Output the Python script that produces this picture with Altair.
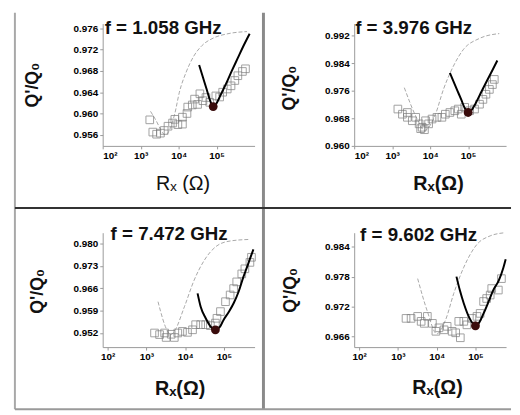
import altair as alt
import pandas as pd

# ---------------- data (x values are log10 of Rx in ohms) ----------------
X_TICKS = [2, 3, 4, 5]
X_TICK_LABELS = ["10²", "10³", "10⁴", "10⁵"]

# Panel 1 : f = 1.058 GHz
P1_TITLE = "f = 1.058 GHz"
P1_Y_TICKS = [0.956, 0.960, 0.964, 0.968, 0.972, 0.976]
P1_SQ_X = [3.24, 3.32, 3.42, 3.52, 3.62, 3.72, 3.84, 3.90, 3.98, 4.10, 4.10, 4.22, 4.24, 4.36,
           4.42, 4.50, 4.56, 4.64, 4.72, 4.82, 4.98, 5.08, 5.16, 5.28, 5.38, 5.48, 5.56, 5.68, 5.76]
P1_SQ_Y = [0.9588, 0.9565, 0.9561, 0.9563, 0.9568, 0.9576, 0.9582, 0.9589, 0.9579, 0.9580, 0.9593,
           0.9600, 0.9612, 0.9616, 0.9627, 0.9617, 0.9637, 0.9624, 0.9630, 0.9621, 0.9633, 0.9631,
           0.9640, 0.9646, 0.9652, 0.9662, 0.9671, 0.9679, 0.9684]
P1_FIT_X = [4.54, 4.64, 4.74, 4.83, 4.91, 4.99, 5.10, 5.25, 5.40, 5.55, 5.70, 5.87]
P1_FIT_Y = [0.9691, 0.9668, 0.9645, 0.9624, 0.9613, 0.9618, 0.9634, 0.9656, 0.9680, 0.9703, 0.9726, 0.9750]
P1_TH_X = [3.26, 3.38, 3.65, 3.90, 4.02, 4.20, 4.40, 4.62, 4.92, 5.30, 5.80]
P1_TH_Y = [0.9604, 0.9590, 0.9560, 0.9600, 0.9640, 0.9678, 0.9708, 0.9728, 0.9742, 0.9750, 0.9754]
P1_MIN = [4.91, 0.9613]

# Panel 2 : f = 3.976 GHz
P2_TITLE = "f = 3.976 GHz"
P2_Y_TICKS = [0.960, 0.968, 0.976, 0.984, 0.992]
P2_SQ_X = [3.15, 3.27, 3.40, 3.40, 3.53, 3.62, 3.71, 3.75, 3.79, 3.85, 3.88, 3.96, 4.05, 4.18, 4.31,
           4.40, 4.52, 4.65, 4.74, 4.82, 4.91, 5.04, 5.17, 5.30, 5.39, 5.47, 5.56, 5.64, 5.69]
P2_SQ_Y = [0.9707, 0.9692, 0.9697, 0.9683, 0.9673, 0.9683, 0.9664, 0.9650, 0.9654, 0.9647, 0.9673,
           0.9664, 0.9678, 0.9683, 0.9683, 0.9692, 0.9697, 0.9702, 0.9707, 0.9692, 0.9712, 0.9702,
           0.9707, 0.9721, 0.9735, 0.9750, 0.9764, 0.9778, 0.9793]
P2_FIT_X = [4.52, 4.62, 4.72, 4.82, 4.91, 5.00, 5.09, 5.20, 5.35, 5.50, 5.65, 5.77]
P2_FIT_Y = [0.9812, 0.9786, 0.9760, 0.9734, 0.9710, 0.9697, 0.9704, 0.9724, 0.9757, 0.9790, 0.9822, 0.9848]
P2_TH_X = [3.32, 3.66, 3.85, 4.14, 4.35, 4.61, 4.87, 5.30, 5.82]
P2_TH_Y = [0.9769, 0.9678, 0.9645, 0.9692, 0.9764, 0.9831, 0.9879, 0.9912, 0.9926]
P2_MIN = [5.00, 0.9697]

# Panel 3 : f = 7.472 GHz
P3_TITLE = "f = 7.472 GHz"
P3_Y_TICKS = [0.952, 0.959, 0.966, 0.973, 0.980]
P3_SQ_X = [3.21, 3.34, 3.47, 3.51, 3.64, 3.72, 3.81, 3.93, 4.06, 4.19, 4.27, 4.40, 4.53, 4.65,
           4.78, 4.82, 4.91, 5.04, 5.16, 5.25, 5.33, 5.46, 5.54, 5.67, 5.71]
P3_SQ_Y = [0.9520, 0.9515, 0.9520, 0.9506, 0.9516, 0.9506, 0.9520, 0.9525, 0.9522, 0.9530, 0.9546,
           0.9546, 0.9546, 0.9543, 0.9551, 0.9566, 0.9587, 0.9618, 0.9639, 0.9659, 0.9680, 0.9705,
           0.9721, 0.9741, 0.9757]
P3_FIT_X = [4.32, 4.40, 4.53, 4.65, 4.78, 4.90, 4.99, 5.12, 5.25, 5.38, 5.50, 5.60, 5.67, 5.76]
P3_FIT_Y = [0.9644, 0.9602, 0.9566, 0.9541, 0.9530, 0.9540, 0.9561, 0.9585, 0.9613, 0.9650, 0.9695,
            0.9728, 0.9752, 0.9782]
P3_TH_X = [3.30, 3.55, 3.63, 3.72, 3.98, 4.23, 4.49, 4.82, 5.16, 5.67]
P3_TH_Y = [0.9618, 0.9525, 0.9515, 0.9525, 0.9602, 0.9685, 0.9747, 0.9793, 0.9808, 0.9813]
P3_MIN = [4.78, 0.9530]

# Panel 4 : f = 9.602 GHz
P4_TITLE = "f = 9.602 GHz"
P4_Y_TICKS = [0.966, 0.972, 0.978, 0.984]
P4_SQ_X = [3.21, 3.34, 3.51, 3.60, 3.68, 3.76, 3.89, 3.98, 4.06, 4.19, 4.27, 4.40, 4.49, 4.61,
           4.57, 4.70, 4.78, 4.91, 5.04, 5.12, 5.21, 5.29, 5.38, 5.42, 5.59, 5.67]
P4_SQ_Y = [0.9696, 0.9696, 0.9700, 0.9690, 0.9686, 0.9700, 0.9686, 0.9670, 0.9677, 0.9673, 0.9680,
           0.9670, 0.9667, 0.9657, 0.9690, 0.9690, 0.9683, 0.9696, 0.9700, 0.9706, 0.9730, 0.9736,
           0.9743, 0.9756, 0.9753, 0.9776]
P4_FIT_X = [4.51, 4.60, 4.70, 4.85, 5.00, 5.10, 5.21, 5.33, 5.46, 5.60, 5.72, 5.78]
P4_FIT_Y = [0.9780, 0.9752, 0.9726, 0.9696, 0.9681, 0.9688, 0.9706, 0.9728, 0.9753, 0.9772, 0.9798, 0.9815]
P4_TH_X = [3.51, 3.76, 4.00, 4.23, 4.44, 4.70, 5.04, 5.38, 5.72]
P4_TH_Y = [0.9776, 0.9710, 0.9665, 0.9693, 0.9746, 0.9799, 0.9845, 0.9862, 0.9868]
P4_MIN = [5.00, 0.9681]

# ---------------- layout / style ----------------
W = 154
H_TOP, H_BOT = 124, 116
FONT = "Liberation Sans"

PANELS = [
    dict(title=P1_TITLE, yt=P1_Y_TICKS, sx=P1_SQ_X, sy=P1_SQ_Y, fx=P1_FIT_X, fy=P1_FIT_Y,
         tx=P1_TH_X, ty=P1_TH_Y, m=P1_MIN, xd=[2, 6], yd=[0.9539, 0.9769], h=H_TOP,
         ttl=(2, 5), ytp=(-71, 62), xtp=(81, 38), xtitle="Rₓ (Ω)", xw="normal"),
    dict(title=P2_TITLE, yt=P2_Y_TICKS, sx=P2_SQ_X, sy=P2_SQ_Y, fx=P2_FIT_X, fy=P2_FIT_Y,
         tx=P2_TH_X, ty=P2_TH_Y, m=P2_MIN, xd=[2, 6], yd=[0.960, 0.9955], h=H_TOP,
         ttl=(1, 5), ytp=(-66, 65), xtp=(85, 38), xtitle="Rₓ(Ω)", xw="bold"),
    dict(title=P3_TITLE, yt=P3_Y_TICKS, sx=P3_SQ_X, sy=P3_SQ_Y, fx=P3_FIT_X, fy=P3_FIT_Y,
         tx=P3_TH_X, ty=P3_TH_Y, m=P3_MIN, xd=[1.873, 5.79], yd=[0.94758, 0.9834], h=H_BOT,
         ttl=(8, 1), ytp=(-66, 59), xtp=(78, 42), xtitle="Rₓ(Ω)", xw="bold"),
    dict(title=P4_TITLE, yt=P4_Y_TICKS, sx=P4_SQ_X, sy=P4_SQ_Y, fx=P4_FIT_X, fy=P4_FIT_Y,
         tx=P4_TH_X, ty=P4_TH_Y, m=P4_MIN, xd=[1.873, 5.79], yd=[0.96382, 0.98684], h=H_BOT,
         ttl=(6, 2), ytp=(-64, 58), xtp=(84, 41), xtitle="Rₓ(Ω)", xw="bold"),
]

# frame lines (pixels relative to first panel's plot area)
FRAME = pd.DataFrame({
    "x1": [-89, 163, -89, -89],
    "x2": [-89, 163, 414, 414],
    "y1": [-11, -11, 187, 391],
    "y2": [391, 391, 187, 391],
    "c": ["#a8a8a8", "#8a8a8a", "#333333", "#9a9a9a"],
    "w": [2, 3, 2, 2],
})

label_expr = "[" + ",".join("'%s'" % s for s in X_TICK_LABELS) + "][round(datum.value) - 2]"


def make_panel(p, with_frame=False):
    xenc = alt.X("x:Q", scale=alt.Scale(domain=p["xd"], nice=False, zero=False),
                 axis=alt.Axis(values=X_TICKS, labelExpr=label_expr, title=p["xtitle"],
                               titleX=p["xtp"][0], titleY=p["xtp"][1], titleAlign="center",
                               titleBaseline="middle", titleFont=FONT, titleFontSize=20,
                               titleFontWeight=p["xw"], titleColor="#111"))
    yenc = alt.Y("y:Q", scale=alt.Scale(domain=p["yd"], nice=False, zero=False),
                 axis=alt.Axis(values=p["yt"], format=".3f", title="Q'/Q₀",
                               titleX=p["ytp"][0], titleY=p["ytp"][1], titleAngle=270,
                               titleAlign="center", titleBaseline="middle", titleFont=FONT,
                               titleFontSize=18, titleFontWeight="bold", titleColor="#111"))

    th = alt.Chart(pd.DataFrame({"x": p["tx"], "y": p["ty"]})).mark_line(
        color="#a8a8a8", strokeWidth=1, strokeDash=[4, 2], interpolate="monotone"
    ).encode(x=xenc, y=yenc)
    sq = alt.Chart(pd.DataFrame({"x": p["sx"], "y": p["sy"]})).mark_point(
        shape="square", filled=False, size=60, strokeWidth=1, color="#7a7a7a"
    ).encode(x=xenc, y=yenc)
    fit = alt.Chart(pd.DataFrame({"x": p["fx"], "y": p["fy"]})).mark_line(
        color="#000000", strokeWidth=2, interpolate="monotone"
    ).encode(x=xenc, y=yenc)
    dot = alt.Chart(pd.DataFrame({"x": [p["m"][0]], "y": [p["m"][1]]})).mark_point(
        shape="circle", filled=True, size=80, color="#3a0c0c", opacity=1
    ).encode(x=xenc, y=yenc)
    ttl = alt.Chart(pd.DataFrame({"t": [p["title"]]})).mark_text(
        align="left", baseline="middle", font=FONT, fontSize=19, fontWeight="bold", color="#111"
    ).encode(x=alt.value(p["ttl"][0]), y=alt.value(p["ttl"][1]), text="t:N")

    layers = [th, sq, fit, dot, ttl]
    if with_frame:
        fr = alt.Chart(FRAME).mark_rule().encode(
            x=alt.X("x1:Q", scale=None), x2="x2:Q",
            y=alt.Y("y1:Q", scale=None), y2="y2:Q",
            color=alt.Color("c:N", scale=None),
            strokeWidth=alt.StrokeWidth("w:Q", scale=None),
        )
        layers = [fr] + layers
    return alt.layer(*layers).properties(width=W, height=p["h"])


charts = [make_panel(p, with_frame=(i == 0)) for i, p in enumerate(PANELS)]

chart = alt.concat(
    *charts, columns=2, spacing={"row": 88, "column": 101}, bounds="flush"
).properties(
    padding={"left": 6, "top": 0, "right": 0, "bottom": 0},
    background="white",
).configure_view(stroke=None).configure_axis(
    grid=False, domainColor="#999999", tickColor="#999999", tickSize=3,
    labelFont=FONT, labelFontWeight="bold", labelFontSize=10, labelColor="#000000",
    labelPadding=2,
)

chart.save("out.html", embed_options={"renderer": "svg", "actions": False})
